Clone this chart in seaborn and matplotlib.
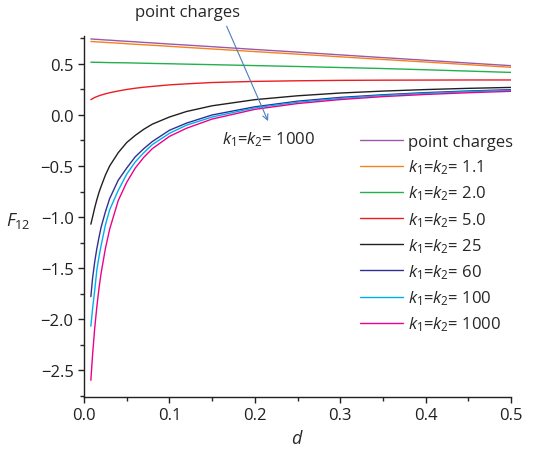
import matplotlib
matplotlib.use("Agg")
import matplotlib.pyplot as plt
from matplotlib.ticker import MultipleLocator
import numpy as np
import pandas as pd
import seaborn as sns

# separation d (shared grid for all curves)
d = [0.008, 0.01, 0.0125, 0.015, 0.0175, 0.02, 0.025, 0.03, 0.04, 0.05, 0.06, 0.07,
     0.08, 0.1, 0.12, 0.15, 0.2, 0.25, 0.3, 0.35, 0.4, 0.45, 0.5]

f_point = [0.745, 0.744, 0.742, 0.741, 0.740, 0.738, 0.735, 0.733, 0.727, 0.722, 0.717, 0.711,
           0.706, 0.695, 0.685, 0.669, 0.642, 0.616, 0.589, 0.562, 0.536, 0.509, 0.483]
f_k11 = [0.720, 0.719, 0.718, 0.716, 0.715, 0.714, 0.711, 0.709, 0.704, 0.698, 0.693, 0.688,
         0.683, 0.673, 0.662, 0.647, 0.621, 0.596, 0.570, 0.544, 0.519, 0.493, 0.467]
f_k20 = [0.517, 0.517, 0.516, 0.516, 0.516, 0.515, 0.514, 0.513, 0.512, 0.511, 0.509, 0.507,
         0.505, 0.502, 0.498, 0.493, 0.484, 0.475, 0.465, 0.455, 0.443, 0.430, 0.417]
f_k50 = [0.150, 0.160, 0.171, 0.180, 0.188, 0.195, 0.207, 0.218, 0.235, 0.250, 0.262, 0.272,
         0.280, 0.295, 0.305, 0.318, 0.329, 0.335, 0.339, 0.341, 0.342, 0.343, 0.343]
f_k25 = [-1.07, -1.00, -0.91, -0.83, -0.76, -0.70, -0.59, -0.50, -0.37, -0.27, -0.20, -0.14,
         -0.09, -0.02, 0.034, 0.09, 0.15, 0.188, 0.215, 0.234, 0.249, 0.261, 0.27]
f_k60 = [-1.78, -1.60, -1.44, -1.31, -1.20, -1.10, -0.95, -0.82, -0.64, -0.52, -0.41, -0.33,
         -0.26, -0.15, -0.08, 0.00, 0.08, 0.135, 0.172, 0.198, 0.219, 0.235, 0.248]
f_k100 = [-2.07, -1.90, -1.72, -1.52, -1.39, -1.28, -1.08, -0.93, -0.74, -0.58, -0.46, -0.37,
          -0.29, -0.18, -0.10, -0.02, 0.07, 0.125, 0.163, 0.191, 0.212, 0.229, 0.242]
f_k1000 = [-2.60, -2.35, -2.09, -1.88, -1.70, -1.55, -1.31, -1.12, -0.84, -0.66, -0.52, -0.415,
           -0.33, -0.21, -0.13, -0.04, 0.055, 0.112, 0.151, 0.18, 0.201, 0.218, 0.232]

labels = ["point charges", r"$k_1$=$k_2$= 1.1", r"$k_1$=$k_2$= 2.0", r"$k_1$=$k_2$= 5.0",
          r"$k_1$=$k_2$= 25", r"$k_1$=$k_2$= 60", r"$k_1$=$k_2$= 100", r"$k_1$=$k_2$= 1000"]
series = [f_point, f_k11, f_k20, f_k50, f_k25, f_k60, f_k100, f_k1000]
colors = ["#9b59a8", "#f58220", "#22b14c", "#ed1c24", "#231f20", "#2e3192", "#00aeef", "#ec008c"]

df = pd.concat([pd.DataFrame({"d": d, "F": s, "label": lab}) for s, lab in zip(series, labels)])

sns.set_style("ticks")
plt.rcParams["font.family"] = ["Open Sans", "DejaVu Sans"]
plt.rcParams["mathtext.fontset"] = "custom"
plt.rcParams["mathtext.rm"] = "Open Sans"
plt.rcParams["mathtext.it"] = "Open Sans:italic"
plt.rcParams["axes.unicode_minus"] = True

fig = plt.figure(figsize=(5.4, 4.56), dpi=100)
ax = fig.add_axes([0.1556, 0.128, 0.7907, 0.79])

sns.lineplot(data=df, x="d", y="F", hue="label", hue_order=labels,
             palette=dict(zip(labels, colors)), estimator=None, sort=False,
             linewidth=1.0, ax=ax, legend=False)

ax.set_xlim(0, 0.5)
ax.set_ylim(-2.76, 0.77)
ax.xaxis.set_major_locator(MultipleLocator(0.1))
ax.xaxis.set_minor_locator(MultipleLocator(0.05))
ax.yaxis.set_major_locator(MultipleLocator(0.5))
ax.yaxis.set_minor_locator(MultipleLocator(0.25))
ax.tick_params(which="major", length=4, width=1, labelsize=12, colors="#231f20")
ax.tick_params(which="minor", length=3, width=1)
ax.xaxis.set_major_formatter(matplotlib.ticker.FormatStrFormatter("%.1f"))
ax.yaxis.set_major_formatter(matplotlib.ticker.FuncFormatter(lambda v, p: f"{v:.1f}".replace("-", "\u2212")))
for s in ["left", "bottom"]:
    ax.spines[s].set_linewidth(1)
    ax.spines[s].set_color("#231f20")
sns.despine(ax=ax)

ax.set_xlabel(r"$d$", fontsize=13, labelpad=4)
ax.set_ylabel(r"$F_{12}$", fontsize=13, rotation=0, labelpad=0, va="center", ha="center")
ax.yaxis.set_label_coords(-0.155, 0.49)

handles = [plt.Line2D([], [], color=c, lw=1.0) for c in colors]
ax.legend(handles, labels, loc="upper left", bbox_to_anchor=(360 / 540, 1 - 135 / 456),
          bbox_transform=fig.transFigure, frameon=False, fontsize=12, handlelength=2.6,
          handletextpad=0.3, labelspacing=0.45, borderpad=0, borderaxespad=0)

ax.text(0.121, 1.01, "point charges", fontsize=12, ha="center", va="center", clip_on=False)
ax.annotate("", xy=(0.2155, -0.06), xytext=(0.167, 0.87), annotation_clip=False,
            arrowprops=dict(arrowstyle="->", color="#4a7fc1", lw=0.8, shrinkA=0, shrinkB=0))
ax.text(0.162, -0.235, r"$k_1$=$k_2$= 1000", fontsize=12, ha="left", va="center")

fig.savefig("out.png", dpi=100)
